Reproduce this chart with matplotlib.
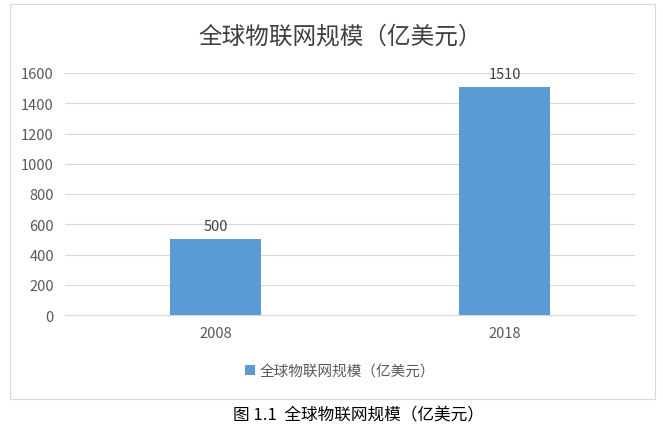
import matplotlib
matplotlib.use("Agg")
import matplotlib.pyplot as plt
from matplotlib.patches import Rectangle

plt.rcParams['font.family'] = ['Noto Sans CJK SC', 'DejaVu Sans']

categories = ['2008', '2018']
values = [500, 1510]
series_name = '全球物联网规模（亿美元）'
title = '全球物联网规模（亿美元）'
caption = '图 1.1  全球物联网规模（亿美元）'
yticks = [0, 200, 400, 600, 800, 1000, 1200, 1400, 1600]

W, H = 663, 431
fig = plt.figure(figsize=(W/100, H/100), dpi=100)
fig.patches.append(Rectangle((10/W, 1-400/H), 645/W, 395/H, transform=fig.transFigure,
                             fill=False, edgecolor='#d9d9d9', linewidth=0.8))
ax = fig.add_axes([65/W, 1-316/H, 570/W, 242/H])
x = range(len(categories))
bars = ax.bar(x, values, width=0.315, color='#5b9bd5', zorder=3, label=series_name)
for xi, v in zip(x, values):
    ax.text(xi, v + 40, str(v), ha='center', va='bottom', fontsize=10.5, color='#404040')
ax.set_xlim(-0.522, 1.45)
ax.set_ylim(0, 1600)
ax.set_yticks(yticks)
ax.set_xticks(list(x))
ax.set_xticklabels(categories)
ax.grid(axis='y', color='#d9d9d9', linewidth=0.8, zorder=0)
for s in ['top', 'right', 'left']:
    ax.spines[s].set_visible(False)
ax.spines['bottom'].set_color('#d9d9d9')
ax.tick_params(axis='both', length=0, labelsize=10.5, labelcolor='#595959')
ax.tick_params(axis='y', pad=8)
ax.tick_params(axis='x', pad=8)
fig.text(340/W, 1-37/H, title, ha='center', va='center', fontsize=17, color='#404040')
fig.legend(handles=[bars], labels=[series_name], loc='center', bbox_to_anchor=(340/W, 1-372/H),
           frameon=False, fontsize=10.5, handlelength=0.7, handleheight=0.7, handletextpad=0.3,
           labelcolor='#595959')
fig.text(358/W, 1-416/H, caption, ha='center', va='center', fontsize=12, color='black')
fig.savefig('out.png', dpi=100)
